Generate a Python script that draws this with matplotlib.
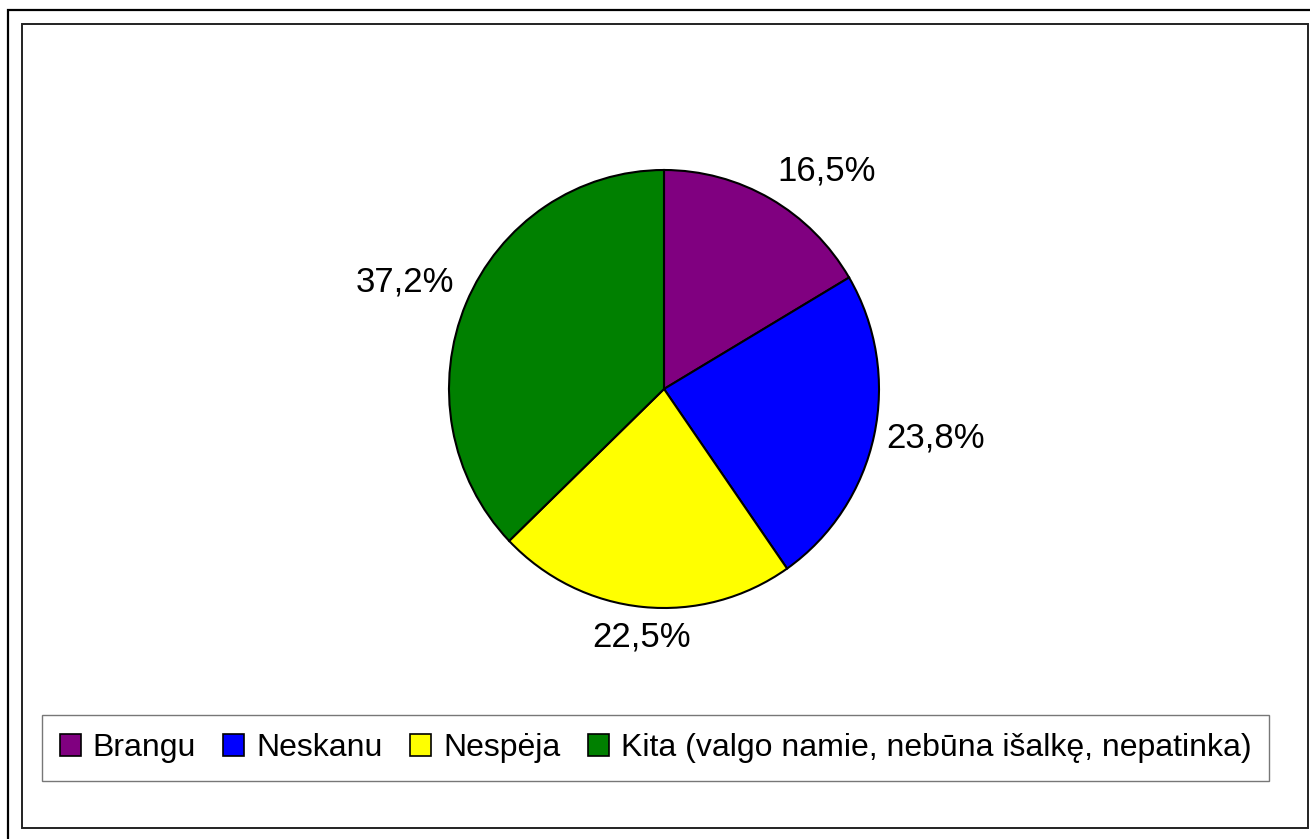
import matplotlib

matplotlib.use("Agg")
import matplotlib.pyplot as plt
import numpy as np
from matplotlib.patches import Rectangle, Patch

# ----------------------------------------------------------------------
# Data
# ----------------------------------------------------------------------
categories = ["Brangu", "Neskanu", "Nespėja", "Kita (valgo namie, nebūna išalkę, nepatinka)"]
values = [16.5, 23.8, 22.5, 37.2]
value_labels = ["16,5%", "23,8%", "22,5%", "37,2%"]
colors = ["#800080", "#0000FF", "#FFFF00", "#008000"]

plt.rcParams["font.family"] = ["Liberation Sans", "DejaVu Sans"]

W, H = 1310, 839
fig = plt.figure(figsize=(W / 100, H / 100), dpi=100)
fig.patch.set_facecolor("white")


def px_rect(x0, y0, x1, y1, **kw):
    """Rectangle given in pixel coords (origin top-left) -> figure fraction."""
    return Rectangle((x0 / W, 1 - y1 / H), (x1 - x0) / W, (y1 - y0) / H,
                     transform=fig.transFigure, fill=False, **kw)


# outer and inner chart frames
fig.patches.append(px_rect(8, 10, 1330, 860, edgecolor="black", linewidth=1.6))
fig.patches.append(px_rect(22, 24, 1308, 828, edgecolor="#222222", linewidth=1.4))

# pie axes: centre (664, 389) px, slightly taller than wide like the original
cx, cy, rx, ry = 664, 389, 215, 219
ax = fig.add_axes([(cx - rx) / W, 1 - (cy + ry) / H, 2 * rx / W, 2 * ry / H])
wedges, _ = ax.pie(
    values,
    colors=colors,
    startangle=90,
    counterclock=False,
    wedgeprops=dict(edgecolor="black", linewidth=1.5),
)
ax.set_xlim(-1, 1)
ax.set_ylim(-1, 1)
ax.set_aspect("auto")
ax.axis("off")

# percentage labels placed just outside each wedge, aligned away from the pie
for w, lab in zip(wedges, value_labels):
    ang = np.deg2rad((w.theta1 + w.theta2) / 2)
    c, s = np.cos(ang), np.sin(ang)
    ha = "left" if c > 0.3 else ("right" if c < -0.3 else "center")
    va = "bottom" if s > 0.3 else ("top" if s < -0.3 else "center")
    ax.text(1.06 * c, 1.06 * s, lab, ha=ha, va=va, fontsize=25, clip_on=False)

handles = [Patch(facecolor=c, edgecolor="black", linewidth=1.2) for c in colors]
leg = fig.legend(
    handles,
    categories,
    loc="center",
    bbox_to_anchor=((43 + 1268) / 2 / W, 1 - 748 / H),
    ncol=4,
    fontsize=23,
    frameon=True,
    fancybox=False,
    edgecolor="#555555",
    handlelength=0.66,
    handleheight=0.66,
    handletextpad=0.38,
    columnspacing=0.85,
    borderpad=0.55,
    borderaxespad=0,
)
leg.get_frame().set_linewidth(1.0)

fig.savefig("out.png", dpi=100)
